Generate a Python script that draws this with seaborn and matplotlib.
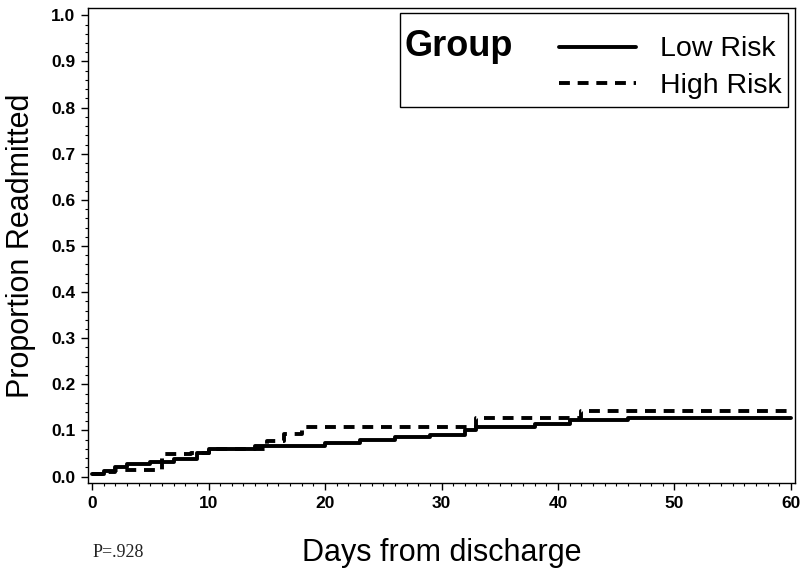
import numpy as np
import pandas as pd
import matplotlib
matplotlib.use('Agg')
import matplotlib.pyplot as plt
from matplotlib.ticker import MultipleLocator
from matplotlib.patches import Rectangle
import seaborn as sns

# step curves (day the step starts, proportion readmitted)
low_days = [0, 1, 2, 3, 5, 7, 9, 10, 14, 20, 23, 26, 29, 32, 33, 38, 41, 46, 60]
low_vals = [0.005, 0.013, 0.02, 0.028, 0.031, 0.038, 0.05, 0.06, 0.066, 0.072,
            0.079, 0.085, 0.091, 0.10, 0.107, 0.115, 0.122, 0.128, 0.128]

high_days = [0, 1, 2, 6, 8.5, 10, 15, 16.5, 18, 33, 42, 60]
high_vals = [0.005, 0.01, 0.015, 0.048, 0.052, 0.06, 0.078, 0.093, 0.108,
             0.126, 0.142, 0.142]

groups = ['Low Risk', 'High Risk']
x_ticks = [0, 10, 20, 30, 40, 50, 60]
y_ticks = [0.0, 0.1, 0.2, 0.3, 0.4, 0.5, 0.6, 0.7, 0.8, 0.9, 1.0]
p_text = 'P=.928'

df = pd.concat([
    pd.DataFrame({'day': low_days, 'prop': low_vals, 'group': groups[0]}),
    pd.DataFrame({'day': high_days, 'prop': high_vals, 'group': groups[1]}),
])

sns.set_style('white')
plt.rcParams['font.family'] = ['Liberation Sans', 'DejaVu Sans']
plt.rcParams['text.color'] = 'black'
plt.rcParams['axes.labelcolor'] = 'black'
plt.rcParams['xtick.color'] = 'black'
plt.rcParams['ytick.color'] = 'black'

fig = plt.figure(figsize=(8, 5.71), dpi=100)
ax = fig.add_axes([88 / 800, 1 - 483 / 571, 707 / 800, 475 / 571])

dash = (2.8, 2.0)
sns.lineplot(data=df, x='day', y='prop', style='group', style_order=groups,
             dashes={'Low Risk': '', 'High Risk': dash},
             color='black', linewidth=2.8, drawstyle='steps-post',
             estimator=None, sort=True, ax=ax, legend=False)

ax.set_xlim(-0.35, 60.35)
ax.set_ylim(-0.014, 1.016)
ax.set_xticks(x_ticks)
ax.set_yticks(y_ticks)
ax.set_yticklabels([f'{v:.1f}' for v in y_ticks])
ax.xaxis.set_minor_locator(MultipleLocator(1))
ax.yaxis.set_minor_locator(MultipleLocator(0.02))
ax.tick_params(which='major', direction='out', length=5, width=1, color='black',
               labelcolor='black', labelsize=12.5, pad=4, bottom=True, left=True)
ax.tick_params(which='minor', direction='out', length=2.5, width=0.8, color='black',
               bottom=True, left=True)
for lab in ax.get_xticklabels() + ax.get_yticklabels():
    lab.set_fontweight('bold')

for s in ax.spines.values():
    s.set_color('black')
    s.set_linewidth(1)

ax.set_xlabel('Days from discharge', fontsize=22, labelpad=20, color='black')
ax.set_ylabel('Proportion Readmitted', fontsize=22, labelpad=11, color='black')

# legend box with the "Group" heading on the left
ax.add_patch(Rectangle((0.441, 0.792), 0.549, 0.197, transform=ax.transAxes,
                       fill=False, edgecolor='black', linewidth=1, zorder=5))
ax.text(0.448, 0.92, 'Group', transform=ax.transAxes, fontsize=26,
        fontweight='bold', va='center', ha='left', color='black')
handles = [plt.Line2D([], [], color='black', linewidth=2.8),
           plt.Line2D([], [], color='black', linewidth=2.8, dashes=dash)]
leg = ax.legend(handles, groups, frameon=False, loc='upper right',
                bbox_to_anchor=(0.981, 0.94), borderaxespad=0, borderpad=0,
                fontsize=20.5, handlelength=2.7, handletextpad=0.85, labelspacing=0.38)
for t in leg.get_texts():
    t.set_color('black')

fig.text(93 / 800, 1 - 557 / 571, p_text, family='Liberation Serif',
         fontsize=13, va='baseline', ha='left', color='#222222')

fig.savefig('out.png', dpi=100)
